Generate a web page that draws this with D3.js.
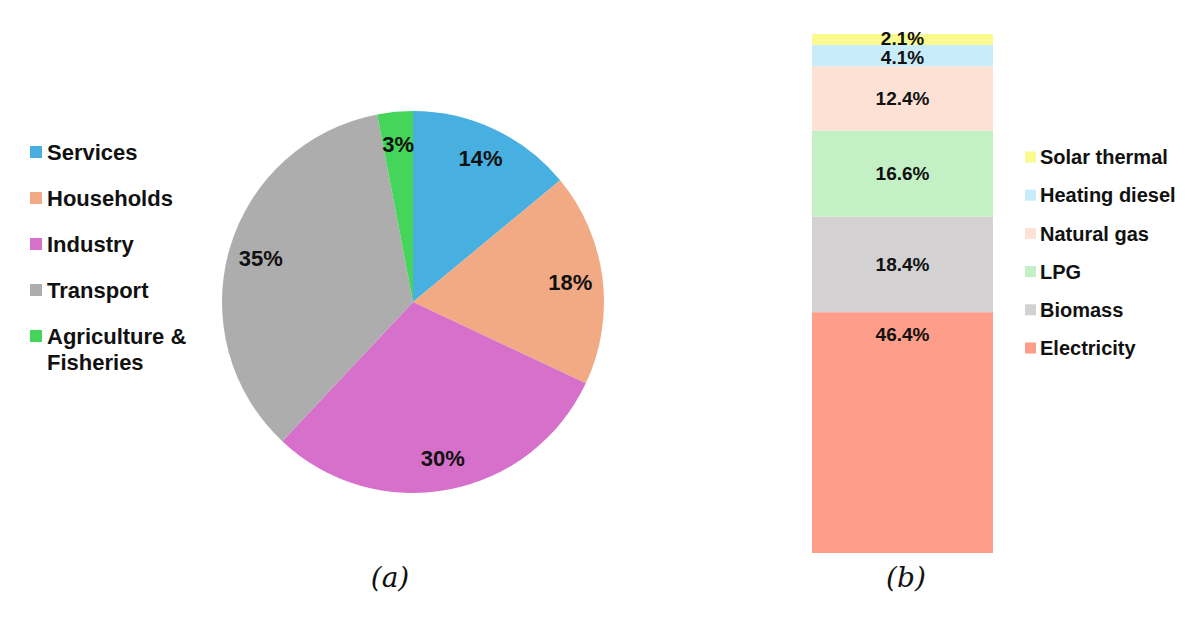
<!DOCTYPE html>
<html>
<head>
<meta charset="utf-8">
<script src="https://cdn.jsdelivr.net/npm/d3@7"></script>
<style>
  body { margin: 0; background: #fff; }
  svg { display: block; }
</style>
</head>
<body>
<svg id="chart" width="1200" height="618"></svg>
<script>
// (a) final energy use by sector
const sectors = ['Services', 'Households', 'Industry', 'Transport', 'Agriculture & Fisheries']
const sectorShares = [14, 18, 30, 35, 3]
const sectorColors = ['#48b0e0', '#f2aa85', '#d670cb', '#adadad', '#45d55a']

// (b) household energy mix, bottom to top
const fuels = ['Electricity', 'Biomass', 'LPG', 'Natural gas', 'Heating diesel', 'Solar thermal']
const fuelShares = [46.4, 18.4, 16.6, 12.4, 4.1, 2.1]
const fuelColors = ['#fe9e8a', '#d3d1d2', '#c3f0c5', '#fde1d5', '#c9ecfa', '#fafa8e']

const svg = d3.select('#chart')
const labelFont = 'Liberation Sans, Arial, sans-serif'

// ---- pie ----
const cx = 413
const cy = 302
const radius = 191
const pie = d3.pie().sort(null).value(d => d)
const arc = d3.arc().innerRadius(0).outerRadius(radius)
const labelArc = d3.arc().innerRadius(radius * 0.83).outerRadius(radius * 0.83)

const pieG = svg.append('g').attr('transform', 'translate(' + cx + ',' + cy + ')')
const arcs = pie(sectorShares)
pieG.selectAll('path')
  .data(arcs)
  .enter()
  .append('path')
  .attr('d', arc)
  .attr('fill', (d, i) => sectorColors[i])
pieG.selectAll('text')
  .data(arcs)
  .enter()
  .append('text')
  .attr('transform', d => 'translate(' + labelArc.centroid(d) + ')')
  .attr('text-anchor', 'middle')
  .attr('dy', '0.36em')
  .style('font-family', labelFont)
  .style('font-weight', 'bold')
  .style('font-size', '22px')
  .style('fill', '#111')
  .text(d => d.data + '%')

// pie legend
const legA = svg.append('g').attr('transform', 'translate(30,152)')
sectors.forEach((name, i) => {
  const row = legA.append('g').attr('transform', 'translate(0,' + i * 46 + ')')
  row.append('rect').attr('x', 0).attr('y', -6).attr('width', 12).attr('height', 12).attr('fill', sectorColors[i])
  const t = row.append('text')
    .style('font-family', labelFont)
    .style('font-weight', 'bold')
    .style('font-size', '22px')
    .style('fill', '#111')
  const parts = name === 'Agriculture & Fisheries' ? ['Agriculture &', 'Fisheries'] : [name]
  parts.forEach((p, j) => {
    t.append('tspan').attr('x', 17).attr('dy', j === 0 ? '0.36em' : '1.2em').text(p)
  })
})

// ---- stacked bar ----
const barX = 812
const barW = 181
const y = d3.scaleLinear().domain([0, 100]).range([553, 34])
let acc = 0
const stack = fuelShares.map((v, i) => {
  const s = { name: fuels[i], value: v, y0: acc, y1: acc + v, color: fuelColors[i] }
  acc += v
  return s
})
const barG = svg.append('g')
barG.selectAll('rect')
  .data(stack)
  .enter()
  .append('rect')
  .attr('x', barX)
  .attr('width', barW)
  .attr('y', d => y(d.y1 / acc * 100))
  .attr('height', d => y(d.y0 / acc * 100) - y(d.y1 / acc * 100))
  .attr('fill', d => d.color)
barG.selectAll('text')
  .data(stack)
  .enter()
  .append('text')
  .attr('x', barX + barW / 2)
  .attr('y', d => {
    const top = y(d.y1 / acc * 100)
    const bot = y(d.y0 / acc * 100)
    // the big electricity label sits near the top of its block
    if (d.value > 40) return top + 22
    // the two thin blocks spread their labels a little
    if (d.value < 3) return (top + bot) / 2 - 1.5
    if (d.value < 5) return (top + bot) / 2 + 1.5
    return (top + bot) / 2
  })
  .attr('dy', '0.36em')
  .attr('text-anchor', 'middle')
  .style('font-family', labelFont)
  .style('font-weight', 'bold')
  .style('font-size', '19px')
  .style('fill', '#111')
  .text(d => d.value.toFixed(1) + '%')

// bar legend, top to bottom
const legB = svg.append('g').attr('transform', 'translate(1025,157)')
fuels.slice().reverse().forEach((name, i) => {
  const c = fuelColors[fuels.length - 1 - i]
  const row = legB.append('g').attr('transform', 'translate(0,' + i * 38.2 + ')')
  row.append('rect').attr('x', 0).attr('y', -5.5).attr('width', 11).attr('height', 11).attr('fill', c)
  row.append('text')
    .attr('x', 15)
    .attr('dy', '0.36em')
    .style('font-family', labelFont)
    .style('font-weight', 'bold')
    .style('font-size', '20px')
    .style('fill', '#111')
    .text(name)
})

// captions
const captions = [{ t: '(a)', x: 390 }, { t: '(b)', x: 906 }]
svg.selectAll('text.caption')
  .data(captions)
  .enter()
  .append('text')
  .attr('class', 'caption')
  .attr('x', d => d.x)
  .attr('y', 587)
  .attr('text-anchor', 'middle')
  .style('font-family', 'DejaVu Serif, serif')
  .style('font-style', 'italic')
  .style('font-size', '28px')
  .style('fill', '#111')
  .text(d => d.t)
</script>
</body>
</html>
